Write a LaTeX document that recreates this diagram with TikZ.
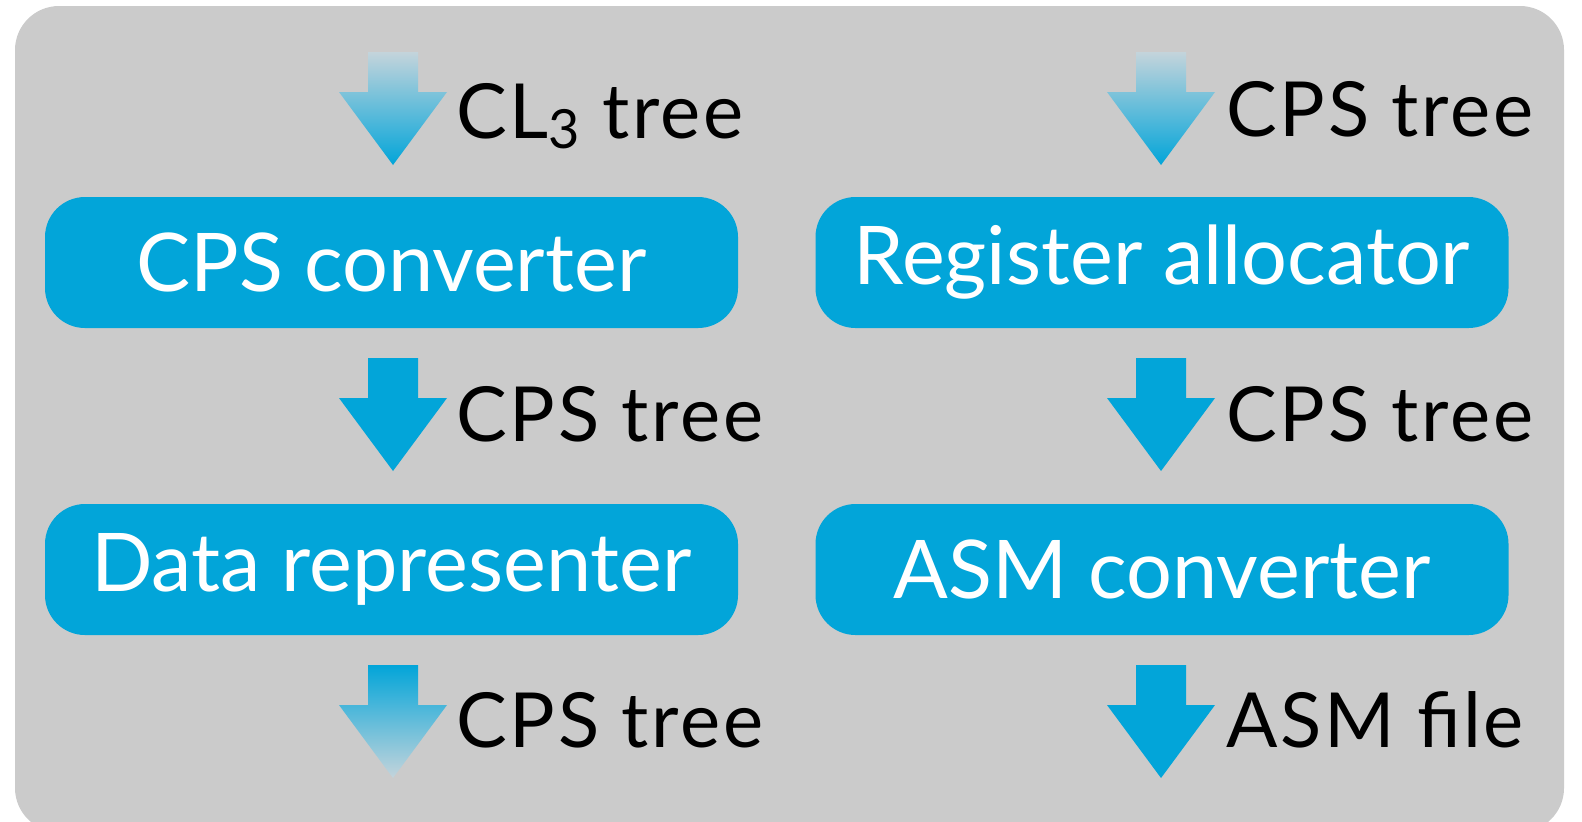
\documentclass[tikz,border=0pt]{standalone}
\usepackage{fontspec}
\setmainfont{Lato}
\newfontfamily\lblfont[LetterSpace=3.5]{Lato}
\definecolor{bg}{HTML}{CBCBCB}
\definecolor{cpsblue}{HTML}{02A5D9}
\definecolor{fadeblue}{HTML}{C4D4DB}
\newcommand\blockarrow[3]{%
  \path[#3] ({#1-25},{#2}) -- ({#1+25},{#2}) -- ({#1+25},{#2+40}) -- ({#1+54},{#2+40})
    -- ({#1},{#2+113}) -- ({#1-54},{#2+40}) -- ({#1-25},{#2+40}) -- cycle;}
\begin{document}
\begin{tikzpicture}[x=0.5pt,y=-0.5pt,
  box/.style={fill=cpsblue, rounded corners=20pt, minimum width=346.5pt, minimum height=65.5pt,
    text=white, font=\fontsize{40.5}{42}\selectfont, inner sep=0pt},
  lbl/.style={anchor=base west, inner sep=0pt, text=black, font=\fontsize{38}{40}\lblfont},
  fadein/.style={top color=fadeblue, bottom color=cpsblue},
  fadeout/.style={top color=cpsblue, bottom color=fadeblue},
  solid arrow/.style={fill=cpsblue}]
\useasboundingbox (0,0) rectangle (1582,821);
\fill[bg, rounded corners=22pt] (15,6) rectangle (1564,832);
% boxes
\node[box] (cps) at (391.5,262.5) {CPS converter};
\node[box] (data) at (391.5,569.5) {Data representer};
\node[box] (reg) at (1162,262.5) {Register allocator};
\node[box] (asm) at (1162,569.5) {ASM converter};
% arrows
\blockarrow{393}{52}{fadein}
\blockarrow{393}{358}{solid arrow}
\blockarrow{393}{665}{fadeout}
\blockarrow{1161}{52}{fadein}
\blockarrow{1161}{358}{solid arrow}
\blockarrow{1161}{665}{solid arrow}
% labels
\node[lbl] (l1) at (456,138) {CL\raisebox{-0.28ex}{\fontsize{27}{28}\lblfont 3} tree};
\node[lbl] (l2) at (456,441) {CPS tree};
\node[lbl] (l3) at (456,747) {CPS tree};
\node[lbl] (r1) at (1226,136) {CPS tree};
\node[lbl] (r2) at (1226,441) {CPS tree};
\node[lbl] (r3) at (1226,747) {ASM file};
\end{tikzpicture}
\end{document}
